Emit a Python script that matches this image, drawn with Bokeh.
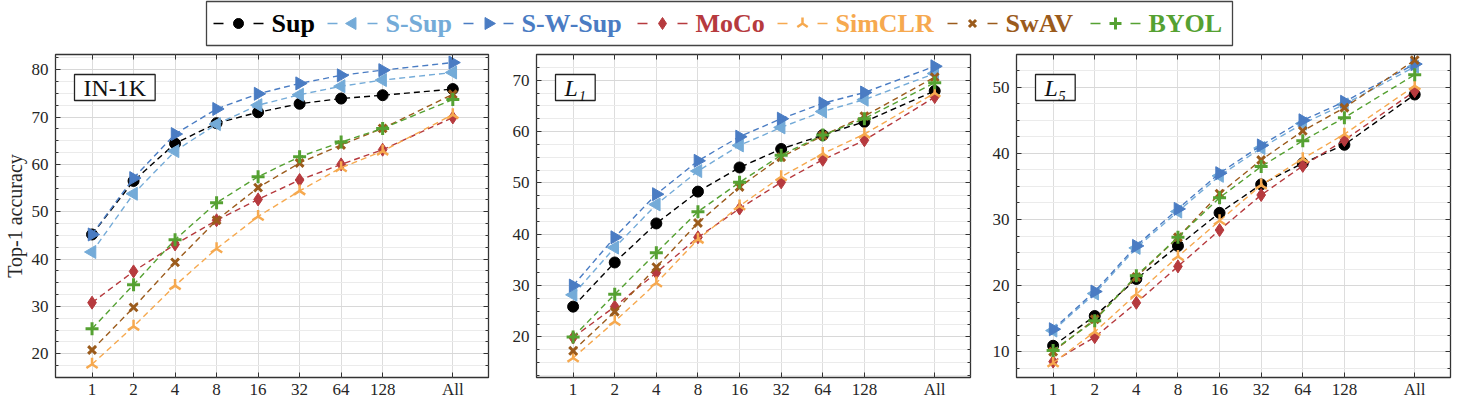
import math

from bokeh.core.properties import value
from bokeh.embed import file_html
from bokeh.layouts import column, row
from bokeh.models import (ColumnDataSource, FixedTicker, Grid, Label,
                          LinearAxis, Range1d, SingleIntervalTicker)
from bokeh.plotting import figure
from bokeh.resources import INLINE

# ---------------------------------------------------------------- data
shots = ["1", "2", "4", "8", "16", "32", "64", "128", "All"]
# shots per class on a log2 axis; "All" sits a bit past 128
shot_pos = [0, 1, 2, 3, 4, 5, 6, 7, 8.69]

methods = ["Sup", "S-Sup", "S-W-Sup", "MoCo", "SimCLR", "SwAV", "BYOL"]

# ImageNet-1K
in1k_sup = [45.2, 56.5, 64.4, 68.7, 71.0, 72.8, 73.9, 74.6, 75.9]
in1k_ssup = [41.5, 53.8, 62.8, 68.5, 72.5, 74.7, 76.5, 77.8, 79.4]
in1k_swsup = [45.2, 57.1, 66.4, 71.7, 74.9, 77.1, 78.8, 79.9, 81.5]
in1k_moco = [30.8, 37.4, 43.1, 48.2, 52.6, 56.7, 60.0, 63.1, 69.9]
in1k_simclr = [17.8, 25.8, 34.4, 42.2, 49.0, 54.4, 59.3, 62.8, 70.5]
in1k_swav = [20.8, 29.8, 39.3, 48.2, 55.1, 60.3, 64.1, 67.6, 74.8]
in1k_byol = [25.3, 34.6, 44.1, 51.9, 57.4, 61.6, 64.7, 67.6, 73.7]

# L1
l1_sup = [25.9, 34.5, 42.1, 48.3, 53.0, 56.6, 59.3, 61.9, 67.9]
l1_ssup = [28.2, 37.4, 45.8, 52.3, 57.3, 60.8, 63.9, 66.2, 71.3]
l1_swsup = [30.0, 39.4, 47.8, 54.3, 59.0, 62.5, 65.5, 67.6, 72.7]
l1_moco = [19.9, 25.9, 32.5, 39.4, 45.0, 50.1, 54.5, 58.3, 66.7]
l1_simclr = [15.9, 23.0, 30.5, 39.0, 45.5, 51.2, 55.7, 59.5, 67.5]
l1_swav = [17.3, 24.9, 33.6, 42.2, 49.2, 55.0, 59.2, 63.0, 70.6]
l1_byol = [20.0, 28.3, 36.4, 44.4, 50.1, 55.4, 59.3, 62.5, 69.5]

# L5
l5_sup = [10.9, 15.4, 21.0, 26.0, 31.0, 35.3, 38.5, 41.3, 48.9]
l5_ssup = [13.2, 18.8, 25.7, 31.2, 36.6, 40.8, 44.5, 47.4, 53.1]
l5_swsup = [13.4, 19.1, 26.0, 31.6, 37.0, 41.2, 45.0, 47.8, 53.5]
l5_moco = [8.5, 12.2, 17.4, 22.9, 28.4, 33.7, 38.1, 42.0, 49.4]
l5_simclr = [8.3, 13.0, 18.7, 24.4, 29.8, 35.2, 39.2, 42.9, 50.2]
l5_swav = [10.0, 14.9, 21.3, 27.3, 33.9, 39.0, 43.4, 46.9, 54.1]
l5_byol = [10.2, 14.7, 21.5, 27.3, 33.3, 38.0, 41.9, 45.4, 51.9]

# ---------------------------------------------------------------- style
FONT = "Liberation Serif"
colors = ["#000000", "#74abd8", "#4a7cc3", "#b63a3e", "#f6a94f", "#9b5b1c", "#55a132"]
markers = ["circle", "triangle", "triangle", "diamond", "y", "x", "cross"]
angles = [0, math.pi / 2, -math.pi / 2, 0, math.pi, 0, 0]
sizes = [11, 13, 13, 13, 13, 11, 13]
mline = [1, 1, 1, 1, 2.5, 3, 3]

TICK_FONT = "17px"
FRAME_H = 325
shot_labels = {pos: lab for pos, lab in zip(shot_pos, shots)}


def make_panel(tag, series, y0, y1, width, left, right, ylabel=None):
    p = figure(width=width, height=351, x_range=Range1d(-0.88, 9.55),
               y_range=Range1d(y0, y1), x_axis_type=None, y_axis_type=None,
               output_backend="svg", toolbar_location=None,
               min_border_left=left, min_border_right=right,
               min_border_top=4, min_border_bottom=22,
               outline_line_color="#333333", outline_line_width=1.3,
               background_fill_color="white", border_fill_color="white")

    yt = SingleIntervalTicker(interval=10, num_minor_ticks=4)
    xt = FixedTicker(ticks=shot_pos)

    p.add_layout(Grid(dimension=0, ticker=xt, grid_line_color="#dddddd"))
    p.add_layout(Grid(dimension=1, ticker=yt, grid_line_color="#d8d8d8",
                      minor_grid_line_color="#ebebeb"))

    tick_style = dict(axis_line_color=None, major_tick_in=5, major_tick_out=0,
                      minor_tick_in=3, minor_tick_out=0,
                      major_tick_line_color="#333333",
                      minor_tick_line_color="#333333")
    label_style = dict(major_label_text_font=FONT,
                       major_label_text_font_size=TICK_FONT,
                       major_label_text_color="#262626")
    # mirror axes: tick marks only, their labels are not painted
    mirror = dict(major_label_text_font_size="1px", major_label_text_color=None,
                  major_label_standoff=0)

    ax_left = LinearAxis(ticker=yt, major_label_standoff=7, **label_style, **tick_style)
    if ylabel:
        ax_left.axis_label = ylabel
        ax_left.axis_label_text_font = FONT
        ax_left.axis_label_text_font_style = "normal"
        ax_left.axis_label_text_font_size = "20px"
        ax_left.axis_label_text_color = "#262626"
        ax_left.axis_label_standoff = 3
    p.add_layout(ax_left, "left")
    p.add_layout(LinearAxis(ticker=xt, major_label_standoff=2,
                            major_label_overrides=shot_labels,
                            **label_style, **tick_style), "below")
    p.add_layout(LinearAxis(ticker=yt, **mirror, **tick_style), "right")
    p.add_layout(LinearAxis(ticker=xt, **mirror, **tick_style), "above")

    for vals, c, m, a, s, lw in zip(series, colors, markers, angles, sizes, mline):
        src = ColumnDataSource(dict(x=shot_pos, y=vals))
        p.line("x", "y", source=src, line_color=c, line_dash="6 4", line_width=1.4)
        p.scatter("x", "y", source=src, marker=m, angle=a, size=s,
                  fill_color=c, line_color=c, line_width=lw)

    italic = tag != "IN-1K"
    p.add_layout(Label(x=19, y=FRAME_H - 22, x_units="screen", y_units="screen",
                       text=tag, text_align="left", text_baseline="top",
                       text_font=FONT, text_font_size="24px",
                       text_font_style="italic" if italic else "normal",
                       text_color="#111111",
                       border_line_color="#222222", border_line_width=1.3,
                       background_fill_color="white",
                       padding=dict(left=9, right=9, top=0, bottom=0)))
    return p


p1 = make_panel("IN-1K", [in1k_sup, in1k_ssup, in1k_swsup, in1k_moco,
                          in1k_simclr, in1k_swav, in1k_byol], 15.0, 83.2, 490, 54, 2,
                ylabel="Top-1 accuracy")
p2 = make_panel("L\u2081", [l1_sup, l1_ssup, l1_swsup, l1_moco,
                            l1_simclr, l1_swav, l1_byol], 12.1, 75.0, 482, 46, 2)
p3 = make_panel("L\u2085", [l5_sup, l5_ssup, l5_swsup, l5_moco,
                            l5_simclr, l5_swav, l5_byol], 6.1, 54.95, 486, 44, 8)

# ---------------------------------------------------------------- legend strip
# the strip's frame is the legend box; its ranges are in pixels
BOX_W, BOX_H = 1026, 44
lg = figure(width=1458, height=50, x_range=Range1d(0, BOX_W), y_range=Range1d(0, BOX_H),
            x_axis_type=None, y_axis_type=None, output_backend="svg",
            toolbar_location=None, min_border_left=206, min_border_right=226,
            min_border_top=1, min_border_bottom=5,
            outline_line_color="#444444", outline_line_width=1.3)

entry_x = [7, 121, 257, 431, 571, 741, 884]
GLYPH_W = 50
mid = BOX_H / 2
key = ColumnDataSource(dict(
    x0=entry_x,
    x1=[x + GLYPH_W for x in entry_x],
    xm=[x + GLYPH_W / 2 for x in entry_x],
    xt=[x + GLYPH_W + 8 for x in entry_x],
    y=[mid] * len(entry_x),
    name=methods, color=colors, marker=markers, angle=angles,
    size=[s - 1 for s in sizes], lw=mline,
))
lg.segment("x0", "y", "x1", "y", source=key, line_color="color",
           line_dash="10 30", line_width=1.5)
lg.scatter("xm", "y", source=key, marker="marker", angle="angle", size="size",
           fill_color="color", line_color="color", line_width="lw")
lg.text("xt", "y", text="name", source=key, text_color="color",
        text_font=value(FONT), text_font_style="bold", text_font_size="26px",
        text_baseline="middle", text_align="left")

layout = column(lg, row(p1, p2, p3))
open("out.html", "w").write(file_html(layout, INLINE))
